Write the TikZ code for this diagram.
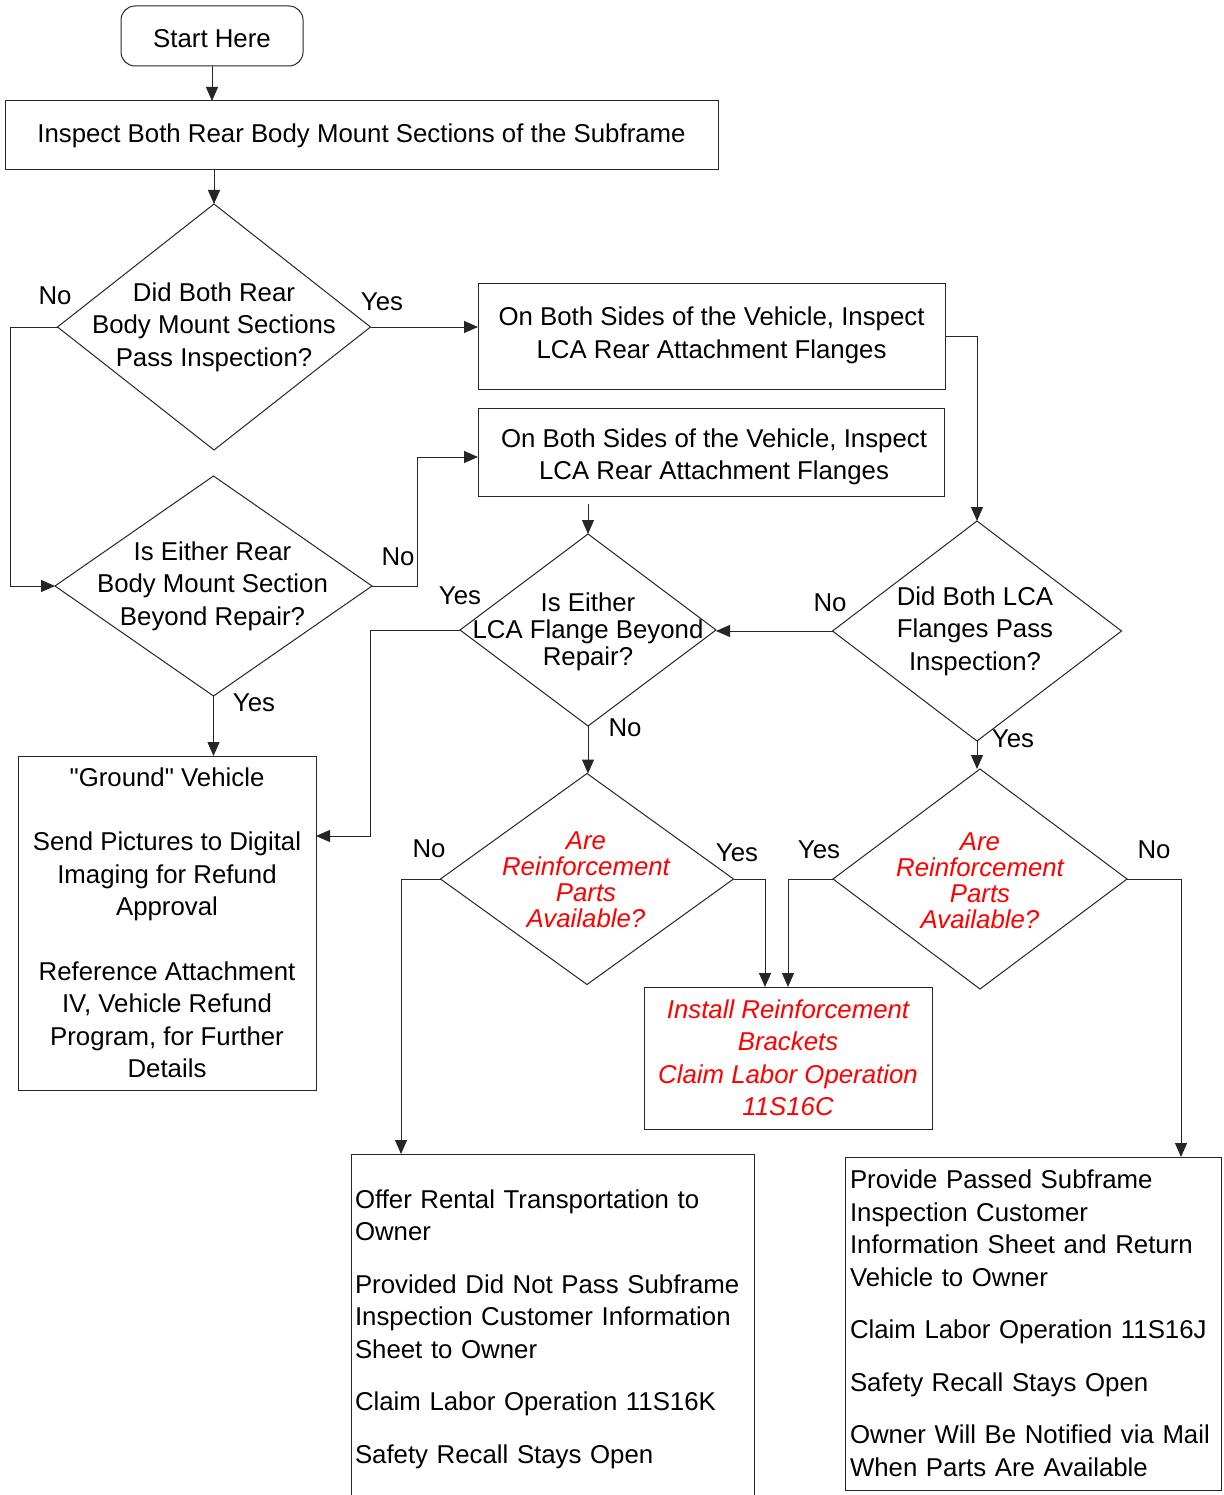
\documentclass[tikz,border=0pt]{standalone}
\usepackage{fontspec}
\setmainfont{Liberation Sans}
\usetikzlibrary{shapes.geometric,arrows.meta,calc}
\newcommand\myfs{\fontsize{25.8}{32.5}\selectfont}
\begin{document}
\begin{tikzpicture}[x=1pt,y=-1pt,
  every node/.style={font=\myfs, outer sep=0pt},
  box/.style={draw=black!85, line width=1pt, inner sep=0pt, align=center},
  dia/.style={draw=black!85, line width=1pt, diamond, inner sep=0pt},
  arr/.style={draw=black!85, line width=1pt, -{Triangle[length=14pt,width=12pt]}},
  redt/.style={text=red, font=\myfs\itshape},
  lab/.style={font=\myfs, inner sep=0pt}]
\fill[white] (0,0) rectangle (1223,1495);
\useasboundingbox (0,0) rectangle (1223,1495);

% nodes
\node[box, rounded corners=14pt, minimum width=182pt, minimum height=60pt,
  label={[yshift=-3pt]center:Start Here}] (start) at (212,36) {};
\node[box, minimum width=713pt, minimum height=69pt] (box1) at (361.5,135.5) {Inspect Both Rear Body Mount Sections of the Subframe};
\node[dia, minimum width=313pt, minimum height=246pt,
  label={[align=center]center:{Did Both Rear\\Body Mount Sections\\Pass Inspection?}}] (d1) at (214,327) {};
\node[box, minimum width=467pt, minimum height=105pt,
  label={[align=center, yshift=1pt]center:{On Both Sides of the Vehicle, Inspect\\LCA Rear Attachment Flanges}}] (box2) at (711.5,336.5) {};
\node[dia, minimum width=317pt, minimum height=220pt,
  label={[align=center, xshift=-1pt]center:{Is Either Rear\\Body Mount Section\\Beyond Repair?}}] (d2) at (213.5,586) {};
\node[box, minimum width=466pt, minimum height=88pt,
  label={[align=center, yshift=-5pt, xshift=3pt]center:{On Both Sides of the Vehicle, Inspect\\LCA Rear Attachment Flanges}}] (box3) at (711,452) {};
\node[dia, minimum width=256pt, minimum height=192pt,
  label={[align=center, yshift=-2pt, font=\fontsize{25.8}{27}\selectfont]center:{Is Either\\LCA Flange Beyond\\Repair?}}] (d4) at (588,630) {};
\node[dia, minimum width=289pt, minimum height=220pt,
  label={[align=center, xshift=-2pt]center:{Did Both LCA\\Flanges Pass\\Inspection?}}] (d3) at (977,631) {};
\node[dia, minimum width=293pt, minimum height=211pt,
  label={[align=center, xshift=-1pt, yshift=-1pt, text=red, font=\fontsize{25.8}{26}\selectfont\itshape]center:{Are\\Reinforcement\\Parts\\Available?}}] (d5) at (587,879) {};
\node[dia, minimum width=294pt, minimum height=220pt,
  label={[align=center, yshift=-2pt, text=red, font=\fontsize{25.8}{26}\selectfont\itshape]center:{Are\\Reinforcement\\Parts\\Available?}}] (d6) at (980,879) {};
\node[box, minimum width=298pt, minimum height=334pt] (ground) at (167,923)
  {\textquotedbl Ground\textquotedbl{} Vehicle\\[32pt]Send Pictures to Digital\\Imaging for Refund\\Approval\\[32pt]Reference Attachment\\IV, Vehicle Refund\\Program, for Further\\Details};
\node[box, redt, minimum width=288pt, minimum height=142pt] (install) at (788,1058)
  {Install Reinforcement\\Brackets\\Claim Labor Operation\\11S16C};
\node[box, draw=none, minimum width=403pt, minimum height=341pt, text width=395pt, inner xsep=4pt, align=left] (offer) at (552.5,1324.5)
  {\rule{0pt}{28pt}Offer Rental Transportation to\\Owner\\[20pt]Provided Did Not Pass Subframe\\Inspection Customer Information\\Sheet to Owner\\[20pt]Claim Labor Operation 11S16K\\[20pt]Safety Recall Stays Open};
\draw[draw=black!85, line width=1pt] (offer.south west) -- (offer.north west) -- (offer.north east) -- (offer.south east);
\node[box, minimum width=376pt, minimum height=333pt, text width=366pt, inner xsep=5pt, align=left] (right) at (1033,1323.5)
  {Provide Passed Subframe\\Inspection Customer\\Information Sheet and Return\\Vehicle to Owner\\[20pt]Claim Labor Operation 11S16J\\[20pt]Safety Recall Stays Open\\[20pt]Owner Will Be Notified via Mail\\When Parts Are Available};

% connector labels
\node[lab] (l1) at (382,302) {Yes};
\node[lab] (l2) at (55,296) {No};
\node[lab] (l3) at (398,557) {No};
\node[lab] (l4) at (254,703) {Yes};
\node[lab] (l5) at (460,596) {Yes};
\node[lab] (l6) at (625,728) {No};
\node[lab] (l7) at (830,603) {No};
\node[lab] (l8) at (1013,739) {Yes};
\node[lab] (l9) at (429,849) {No};
\node[lab] (l10) at (737,853) {Yes};
\node[lab] (l11) at (819,850) {Yes};
\node[lab] (l12) at (1154,850) {No};

% connectors
\draw[arr] (start.south) -- (start.south |- box1.north);
\draw[arr] (box1.south -| d1.north) -- (d1.north);
\draw[arr] (d1.east) -- (d1.east -| box2.west);
\draw[arr] (box2.east) -| (d3.north);
\draw[arr] (d1.west) -- ++(-47,0) |- (d2.west);
\draw[arr] (d2.east) -- ++(45,0) |- ($(box3.west)+(0,5)$);
\draw[arr, shorten <=8pt] (box3.south -| d4.north) -- (d4.north);
\draw[arr] (d2.south) -- (d2.south |- ground.north);
\draw[arr] (d3.west) -- (d3.west -| d4.east);
\draw[arr] (d4.west) -- ++(-90,0) |- ($(ground.east)+(0,-87)$);
\draw[arr] (d4.south) -- (d4.south |- d5.north);
\draw[arr] (d3.south) -- (d3.south |- d6.north);
\draw[arr] (d5.west) -| ($(offer.north west)+(50,0)$);
\draw[arr] (d5.east) -| ($(install.north west)+(121,0)$);
\draw[arr] (d6.west) -| ($(install.north west)+(144,0)$);
\draw[arr] (d6.east) -| ($(right.north west)+(336,0)$);
\end{tikzpicture}
\end{document}
